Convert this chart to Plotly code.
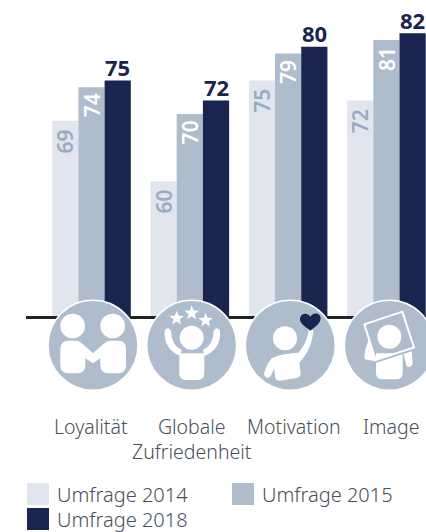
import re
import math
import plotly.graph_objects as go

W, H = 426, 532
BASE_PX, RANGE_TOP = 316, 86.95
categories = ["Loyalität", "Globale Zufriedenheit", "Motivation", "Image"]
category_labels = ["Loyalität", "Globale<br>Zufriedenheit", "Motivation", "Image"]
label_x_px = [90.5, 192, 293.5, 391]
series_names = ["Umfrage 2014", "Umfrage 2015", "Umfrage 2018"]
values_2014 = [69, 60, 75, 72]
values_2015 = [74, 70, 79, 81]
values_2018 = [75, 72, 80, 82]
C14, C15, C18 = "#e1e6ee", "#afbccc", "#19244f"
LABEL14 = "#98abc0"
TXT = "#47505a"
FONT = "Noto Sans"
BAR_OFFSET = 26.3 / 98.3

fig = go.Figure()
annotations = []
for j, (name, vals, col, tcol, ang, wt, size, shift) in enumerate([
    (series_names[0], values_2014, C14, LABEL14, -90, 600, 21, -20.5),
    (series_names[1], values_2015, C15, "#ffffff", -90, 600, 21, -18.5),
    (series_names[2], values_2018, C18, C18, 0, 700, 22, 13.5),
]):
    fig.add_bar(x=categories, y=vals, name=name, marker=dict(color=col, line_width=0), cliponaxis=False)
    for i, v in enumerate(vals):
        annotations.append(dict(
            text=str(v), x=i + (j - 1) * BAR_OFFSET, y=v, xref="x", yref="y", showarrow=False,
            textangle=ang, xanchor="center", yanchor="middle", yshift=shift,
            font=dict(family=FONT, size=size, color=tcol, weight=wt),
        ))


def px(x):
    return x / W


def py(y):
    return 1 - y / H


def conv(d, ox, oy):
    """zoom-crop path (3x) to paper coordinates."""
    out = []
    i = 0
    for tok in re.findall(r"[MLCQZ]|-?[\d.]+", d):
        if tok.isalpha():
            out.append(tok)
        else:
            v = float(tok)
            if i % 2 == 0:
                out.append(f"{px(ox + v / 3):.5f}")
            else:
                out.append(f"{py(oy + v / 3):.5f}")
            i += 1
    return " ".join(out)


shapes = []


def path(d, ox, oy, fill="#ffffff", line=None, width=0):
    shapes.append(dict(type="path", xref="paper", yref="paper", path=conv(d, ox, oy),
                       fillcolor=fill, line=dict(color=line or "rgba(0,0,0,0)", width=width)))


def circ(cx, cy, r, ox, oy, fill="#ffffff", line=None, width=0):
    x, y = ox + cx / 3, oy + cy / 3
    r = r / 3
    shapes.append(dict(type="circle", xref="paper", yref="paper", x0=px(x - r), x1=px(x + r),
                       y0=py(y + r), y1=py(y - r), fillcolor=fill,
                       line=dict(color=line or "rgba(0,0,0,0)", width=width)))


def star(cx, cy, r):
    pts = []
    for k in range(10):
        a = -math.pi / 2 + k * math.pi / 5
        rr = r if k % 2 == 0 else r * 0.42
        pts.append(f"{cx + rr * math.cos(a):.1f} {cy + rr * math.sin(a):.1f}")
    return "M " + " L ".join(pts) + " Z"


# badge discs
for cx, ox in [(279, 0), (575, 0), (181, 230), (478, 230)]:
    circ(cx, 166, 135, ox, 290, fill=C15, line="#ffffff", width=1.5)

# icon 1: two people shaking hands
circ(218, 108, 37, 0, 290)
circ(338, 108, 37, 0, 290)
path("M 205 152 L 225 152 Q 238 152 248 162 L 279 190 L 310 162 Q 320 152 333 152 L 355 152 "
     "Q 378 152 378 176 L 378 226 Q 378 250 355 250 L 325 250 Q 301 250 301 226 L 301 205 "
     "L 279 220 L 256 205 L 256 226 Q 256 250 232 250 L 205 250 Q 181 250 181 226 L 181 176 "
     "Q 181 152 205 152 Z", 0, 290)

# icon 2: person cheering with stars
circ(575, 143, 36, 0, 290)
for c in [(530, 85, 23), (575, 69, 23), (617, 91, 23)]:
    path(star(*c), 0, 290)
path("M 538 190 L 613 190 L 613 250 Q 613 270 593 270 L 558 270 Q 538 270 538 250 Z", 0, 290)
path("M 494 122 Q 503 108 513 122 Q 514 165 545 180 L 540 198 Q 490 175 494 122 Z", 0, 290)
path("M 660 122 Q 651 108 641 122 Q 640 165 609 180 L 614 198 Q 664 175 660 122 Z", 0, 290)

# icon 3: person holding a heart
circ(165, 145, 36, 230, 290)
path("M 125 205 C 150 192 180 190 205 188 C 222 170 234 145 236 118 L 250 120 "
     "C 248 155 235 190 208 218 L 212 250 Q 212 262 200 264 L 150 272 Q 138 273 135 260 "
     "L 133 235 L 122 258 Q 112 270 104 258 Q 100 250 106 238 Q 112 220 125 205 Z", 230, 290)
path("M 241 122 C 225 110 208 100 210 85 C 212 70 232 65 241 80 C 250 65 272 68 272 85 "
     "C 272 100 255 112 241 122 Z", 230, 290, fill=C18)

# icon 4: person holding up a picture frame
path("M 438 190 L 518 190 L 518 248 Q 518 268 498 268 L 458 268 Q 438 268 438 248 Z", 230, 290)
path("M 416 150 Q 400 190 404 208 L 436 214 L 430 190 Z", 230, 290)
path("M 520 190 L 545 178 L 548 222 Q 540 238 530 228 Z", 230, 290)
path("M 437 214 L 556 176", 230, 290, fill="rgba(0,0,0,0)", line=C15, width=3)
circ(478, 140, 36, 230, 290)
path("M 403 103 L 517 65 L 552 172 L 437 210 Z", 230, 290, fill="rgba(0,0,0,0)", line="#ffffff", width=2)

for lab, x in zip(category_labels, label_x_px):
    annotations.append(dict(text=lab, xref="paper", yref="paper", x=px(x), y=py(411),
                            xanchor="center", yanchor="top", showarrow=False, align="center",
                            font=dict(family=FONT, size=19.5, color=TXT, weight=300)))

# legend
for name, col, sx, sy in [(series_names[0], C14, 27, 483), (series_names[1], C15, 232, 483),
                          (series_names[2], C18, 27, 508)]:
    shapes.append(dict(type="rect", xref="paper", yref="paper", x0=px(sx), x1=px(sx + 22),
                       y0=py(sy + 22), y1=py(sy), fillcolor=col, line_width=0))
    annotations.append(dict(text=name, xref="paper", yref="paper", x=px(sx + 28), y=py(sy + 11),
                            xanchor="left", yanchor="middle", showarrow=False,
                            font=dict(family=FONT, size=20, color=TXT, weight=300)))

fig.update_layout(
    width=W, height=H, margin=dict(l=0, r=0, t=0, b=0), autosize=False,
    paper_bgcolor="#ffffff", plot_bgcolor="#ffffff", showlegend=False,
    barmode="group", bargap=0.2, bargroupgap=0,
    shapes=shapes, annotations=annotations,
    xaxis=dict(domain=[26 / W, 1], range=[(26 - 91.5) / 98.3, (426 - 91.5) / 98.3], type="category",
               categoryorder="array", categoryarray=categories, showticklabels=False, ticks="",
               showgrid=False, showline=True, linecolor="#222222", linewidth=2.5, layer="below traces",
               zeroline=False, automargin=False),
    yaxis=dict(domain=[1 - BASE_PX / H, 1], range=[40, RANGE_TOP], visible=False, showgrid=False,
               zeroline=False, automargin=False),
)
fig.write_html("out.html", config=dict(displayModeBar=False),
               post_script="document.body.style.margin='0';document.body.style.overflow='hidden';")
